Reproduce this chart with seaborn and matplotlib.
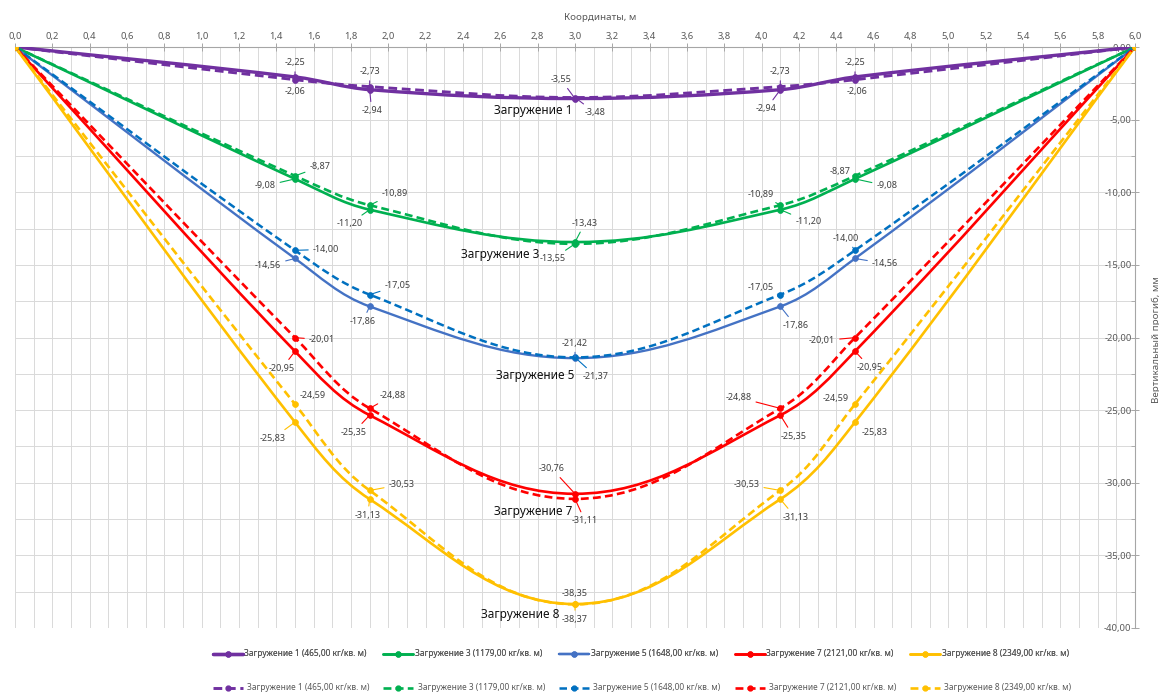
import numpy as np
import pandas as pd
import matplotlib
matplotlib.use("Agg")
import matplotlib.pyplot as plt
import seaborn as sns
from matplotlib.path import Path
from matplotlib.patches import PathPatch
from matplotlib.lines import Line2D
from matplotlib.ticker import MultipleLocator, FixedLocator, FuncFormatter

# ---------------- data ----------------
coords = [0.0, 1.5, 1.9, 3.0, 4.1, 4.5, 6.0]

load_names = ["Загружение 1", "Загружение 3", "Загружение 5", "Загружение 7", "Загружение 8"]
load_values = ["465,00", "1179,00", "1648,00", "2121,00", "2349,00"]

s1_solid = [0.0, -2.06, -2.94, -3.55, -2.94, -2.06, 0.0]
s1_dash = [0.0, -2.25, -2.73, -3.48, -2.73, -2.25, 0.0]
s3_solid = [0.0, -9.08, -11.20, -13.43, -11.20, -9.08, 0.0]
s3_dash = [0.0, -8.87, -10.89, -13.55, -10.89, -8.87, 0.0]
s5_solid = [0.0, -14.56, -17.86, -21.42, -17.86, -14.56, 0.0]
s5_dash = [0.0, -14.00, -17.05, -21.37, -17.05, -14.00, 0.0]
s7_solid = [0.0, -20.95, -25.35, -30.76, -25.35, -20.95, 0.0]
s7_dash = [0.0, -20.01, -24.88, -31.11, -24.88, -20.01, 0.0]
s8_solid = [0.0, -25.83, -31.13, -38.35, -31.13, -25.83, 0.0]
s8_dash = [0.0, -24.59, -30.53, -38.37, -30.53, -24.59, 0.0]

x_ticks = np.round(np.arange(0, 6.01, 0.2), 1)
y_ticks = [0, -5, -10, -15, -20, -25, -30, -35, -40]

# ---------------- styles ----------------
colors_solid = ["#7030A0", "#00B050", "#4472C4", "#FF0000", "#FFC000"]
colors_dash = ["#7030A0", "#00B050", "#0070C0", "#FF0000", "#FFC000"]
lw_solid = [2.4, 1.9, 1.7, 1.9, 1.9]
lw_dash = [2.1, 1.9, 1.8, 1.9, 1.9]

solid_series = [s1_solid, s3_solid, s5_solid, s7_solid, s8_solid]
dash_series = [s1_dash, s3_dash, s5_dash, s7_dash, s8_dash]

# label offsets in pixels (dx, dy up) for points 1..5
off_solid = [
    [(0, -15), (2, -21), (-14, 19), (-14, -19), (2, -15)],
    [(-30, -7), (-20, -14), (10, 19), (28, -12), (32, -7)],
    [(-27, -7), (-7, -15), (0, 15), (15, -19), (30, -5)],
    [(-13, -17), (-16, -17), (-23, 25), (13, -21), (15, -16)],
    [(-22, -16), (-2, -16), (0, 11), (15, -18), (20, -10)],
]
off_dash = [
    [(0, 17), (0, 15), (20, -15), (0, 15), (0, 17)],
    [(25, 9), (25, 12), (-22, -15), (-20, 11), (-15, 4)],
    [(31, 1), (28, 9), (21, -19), (-20, 7), (-9, 12)],
    [(27, -2), (23, 13), (10, -22), (-42, 11), (-33, -3)],
    [(18, 9), (32, 6), (0, -15), (-34, 6), (-19, 6)],
]
name_pos = [(2.775, -4.35), (2.60, -14.3), (2.786, -22.6), (2.775, -32.0), (2.705, -39.05)]

sns.set_theme(style="white")
plt.rcParams["font.family"] = ["Noto Sans", "DejaVu Sans"]

W, H = 1159, 693
AX_L, AX_R, AX_T, AX_B = 15, 1135, 47, 628
fig = plt.figure(figsize=(W / 100, H / 100), dpi=100)
ax = fig.add_axes([AX_L / W, 1 - AX_B / H, (AX_R - AX_L) / W, (AX_B - AX_T) / H])
XMIN, XMAX, YMIN, YMAX = 0, 6, -40, 0
ax.set_xlim(XMIN, XMAX)
ax.set_ylim(YMIN, YMAX)

grid_c = "#d9d9d9"
ax.xaxis.set_major_locator(FixedLocator(x_ticks))
ax.xaxis.set_minor_locator(MultipleLocator(0.1))
ax.yaxis.set_major_locator(FixedLocator(y_ticks))
ax.yaxis.set_minor_locator(MultipleLocator(2.5))
ax.grid(True, which="both", color=grid_c, lw=0.7, zorder=0)
ax.set_axisbelow(True)

for s in ["left", "bottom"]:
    ax.spines[s].set_visible(False)
for s in ["top", "right"]:
    ax.spines[s].set_visible(True)
    ax.spines[s].set_color("#a6a6a6")
    ax.spines[s].set_linewidth(0.8)

ax.xaxis.set_ticks_position("top")
ax.xaxis.set_label_position("top")
ax.xaxis.set_major_formatter(FuncFormatter(lambda v, p: f"{v:.1f}".replace(".", ",")))
ax.tick_params(axis="x", which="major", direction="inout", length=6, width=0.7,
               color="#a6a6a6", labelsize=6.8, labelcolor="#595959", pad=1.5)
ax.tick_params(axis="x", which="minor", direction="in", length=0)

ax.yaxis.set_ticks_position("right")
ax.yaxis.set_major_formatter(FuncFormatter(lambda v, p: f"{v:.2f}".replace(".", ",").replace("-0,00", "0,00")))
ax.tick_params(axis="y", which="major", direction="inout", length=6, width=0.7,
               color="#a6a6a6", labelsize=6.8, labelcolor="#595959", pad=-5.5,
               labelright=True, labelleft=False)
ax.tick_params(axis="y", which="minor", direction="in", length=3, width=0.6, color="#a6a6a6")
for lbl in ax.get_yticklabels():
    lbl.set_ha("right")

# pixel scale of the axes, used so the curve smoothing behaves like on screen
SX = (AX_R - AX_L) / (XMAX - XMIN)
SY = (AX_B - AX_T) / (YMAX - YMIN)


def smooth_path(xs, ys, k=0.36):
    pts = np.column_stack([np.asarray(xs) * SX, np.asarray(ys) * SY]).astype(float)
    n = len(pts)
    tang = []
    for i in range(n):
        if i == 0:
            t = pts[1] - pts[0]
        elif i == n - 1:
            t = pts[-1] - pts[-2]
        else:
            t = pts[i + 1] - pts[i - 1]
        tang.append(t / np.linalg.norm(t))
    verts = [pts[0]]
    codes = [Path.MOVETO]
    for i in range(n - 1):
        d = np.linalg.norm(pts[i + 1] - pts[i])
        c1 = pts[i] + tang[i] * d * k
        c2 = pts[i + 1] - tang[i + 1] * d * k
        verts += [c1, c2, pts[i + 1]]
        codes += [Path.CURVE4] * 3
    verts = np.array(verts)
    verts[:, 0] /= SX
    verts[:, 1] /= SY
    return Path(verts, codes)


dash_pat = (0, (3, 1.6))


def draw_series(vals, color, lw, ls, z):
    patch = PathPatch(smooth_path(coords, vals), facecolor="none", edgecolor=color,
                      lw=lw, linestyle=ls, zorder=z, capstyle="butt", joinstyle="round")
    ax.add_patch(patch)
    df = pd.DataFrame({"x": coords, "y": vals})
    sns.scatterplot(data=df, x="x", y="y", ax=ax, color=color, s=18, edgecolor=color,
                    linewidth=0.5, zorder=z + 0.5, legend=False)


for i in range(5):
    draw_series(solid_series[i], colors_solid[i], lw_solid[i], "solid", 3 + i * 0.01)
for i in range(5):
    draw_series(dash_series[i], colors_dash[i], lw_dash[i], dash_pat, 4 + i * 0.01)

ax.set_xlabel("")
ax.set_ylabel("")


def fmt(v):
    return f"{v:.2f}".replace(".", ",")


def annotate(vals, offs, color):
    for k in range(1, 6):
        dx, dy = offs[k - 1]
        ax.annotate(fmt(vals[k]), xy=(coords[k], vals[k]), xytext=(dx, dy),
                    textcoords="offset pixels", ha="center", va="center",
                    fontsize=6.5, color="#404040", zorder=6,
                    arrowprops=dict(arrowstyle="-", color=color, lw=0.8,
                                    shrinkA=1, shrinkB=1))


for i in range(5):
    annotate(solid_series[i], off_solid[i], colors_solid[i])
    annotate(dash_series[i], off_dash[i], colors_dash[i])

for i in range(5):
    ax.text(name_pos[i][0], name_pos[i][1], load_names[i], ha="center", va="center",
            fontsize=8.5, color="#111111", zorder=7)

fig.text(600 / W, 1 - 17 / H, "Координаты, м", ha="center", va="center",
         fontsize=7, color="#595959")
fig.text(1156 / W, 1 - 340 / H, "Вертикальный прогиб, мм", ha="center", va="center",
         rotation=90, fontsize=7, color="#595959")

labels = [f"{load_names[i]} ({load_values[i]} кг/кв. м)" for i in range(5)]
h_solid = [Line2D([], [], color=colors_solid[i], lw=lw_solid[i], marker="o", ms=3.5)
           for i in range(5)]
h_dash = [Line2D([], [], color=colors_dash[i], lw=lw_dash[i], ls=dash_pat, marker="o", ms=3.5)
          for i in range(5)]
leg_kw = dict(loc="center left", ncol=5, frameon=False, fontsize=6.0, handlelength=3.6,
              labelcolor="#595959", borderaxespad=0.5, borderpad=0.4)
leg1 = fig.legend(h_solid, labels, bbox_to_anchor=(205 / W, 1 - 654 / H),
                  handletextpad=0.2, columnspacing=2.0, **leg_kw)
leg2 = fig.legend(h_dash, labels, bbox_to_anchor=(205 / W, 1 - 688 / H),
                  handletextpad=0.5, columnspacing=1.7, **leg_kw)
fig.add_artist(leg1)

fig.savefig("out.png", dpi=100)
